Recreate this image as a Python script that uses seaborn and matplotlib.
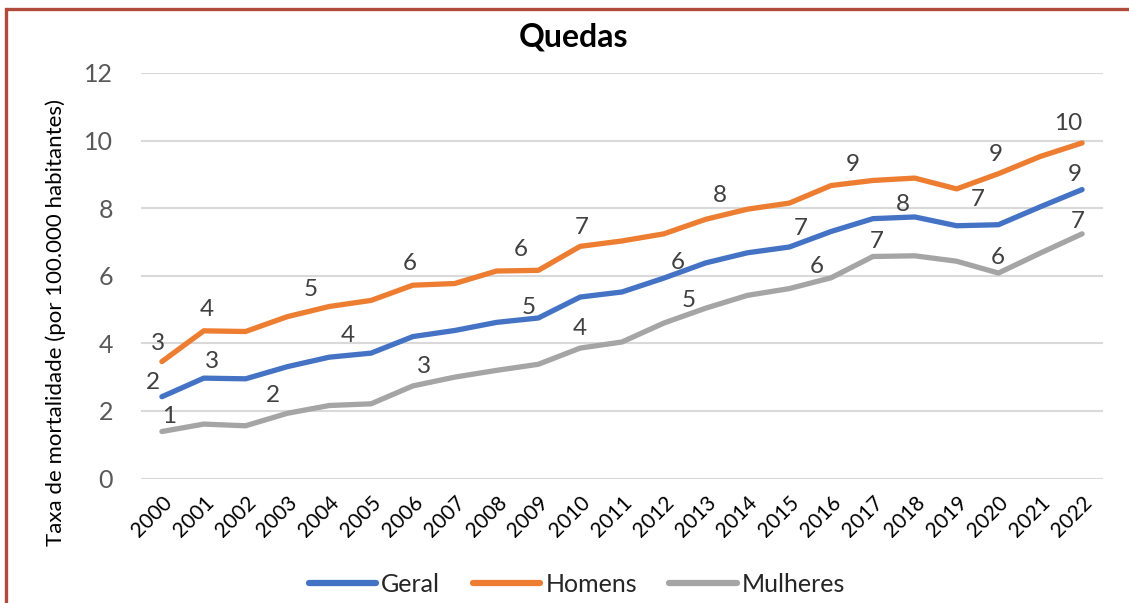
import numpy as np
import pandas as pd
import matplotlib.pyplot as plt
import seaborn as sns
from matplotlib.patches import Rectangle

sns.set_theme(style="white")
plt.rcParams["font.family"] = ["Lato", "DejaVu Sans"]

# Data
anos = list(range(2000, 2023))
geral = [2.42, 2.97, 2.95, 3.31, 3.59, 3.71, 4.20, 4.38, 4.62, 4.75, 5.37, 5.52,
         5.93, 6.38, 6.68, 6.85, 7.31, 7.69, 7.74, 7.48, 7.51, 8.04, 8.55]
homens = [3.46, 4.37, 4.35, 4.79, 5.09, 5.27, 5.72, 5.77, 6.14, 6.16, 6.87, 7.03,
          7.24, 7.67, 7.97, 8.15, 8.67, 8.82, 8.89, 8.57, 9.02, 9.53, 9.93]
mulheres = [1.39, 1.61, 1.56, 1.93, 2.16, 2.21, 2.74, 3.00, 3.20, 3.38, 3.86, 4.04,
            4.60, 5.04, 5.42, 5.62, 5.94, 6.57, 6.59, 6.43, 6.08, 6.67, 7.24]

series = ["Geral", "Homens", "Mulheres"]
cores = {"Geral": "#4472C4", "Homens": "#ED7D31", "Mulheres": "#A5A5A5"}

# which points carry a data label (year, offset in pixels dx, dy)
rotulos = {
    "Homens": [(2000, -4, 18), (2001, 3, 21), (2004, -18, 17), (2006, -3, 22),
               (2009, -18, 21), (2010, 2, 19), (2013, 14, 24), (2016, 22, 21),
               (2020, -3, 19), (2022, -14, 19)],
    "Geral": [(2000, -9, 14), (2001, 8, 17), (2005, -23, 18), (2009, -10, 10),
              (2012, 14, 16), (2015, 11, 19), (2018, -12, 12), (2019, 21, 26),
              (2022, -7, 15)],
    "Mulheres": [(2000, 7, 15), (2003, -14, 18), (2006, 11, 19), (2010, 0, 20),
                 (2013, -17, 8), (2016, -14, 11), (2017, 4, 15), (2020, -1, 16),
                 (2022, -4, 12)],
}

df = pd.DataFrame({"Ano": anos, "Geral": geral, "Homens": homens, "Mulheres": mulheres})
long_df = df.melt(id_vars="Ano", var_name="Serie", value_name="Taxa")

fig = plt.figure(figsize=(11.29, 6.03), dpi=100)
ax = fig.add_axes([141 / 1129, 1 - 478.5 / 603, (1103 - 141) / 1129, (478.5 - 73) / 603])

sns.lineplot(data=long_df, x="Ano", y="Taxa", hue="Serie", hue_order=series,
             palette=cores, linewidth=3.8, ax=ax, legend=False,
             solid_capstyle="round", solid_joinstyle="round")

for s in series:
    valores = df.set_index("Ano")[s]
    for ano, dx, dy in rotulos[s]:
        v = valores[ano]
        ax.annotate(f"{int(np.floor(v + 0.5))}", (ano, v), xytext=(dx, dy),
                    textcoords="offset pixels", ha="center", va="center",
                    fontsize=17.5, color="#404040")

ax.set_xlim(1999.5, 2022.5)
ax.set_ylim(0, 12)
ax.set_yticks(range(0, 13, 2))
ax.set_xticks(anos)
ax.set_xticklabels([str(a) for a in anos], rotation=45, ha="right",
                   rotation_mode="anchor", fontsize=15, color="black")
ax.tick_params(axis="y", labelsize=18, labelcolor="#595959", length=0, pad=20)
ax.tick_params(axis="x", length=0, pad=10)
ax.yaxis.grid(True, color="#D9D9D9", linewidth=1.5)
ax.set_axisbelow(True)
for sp in ax.spines.values():
    sp.set_visible(False)

ax.set_xlabel("")
ax.set_ylabel("Taxa de mortalidade (por 100.000 habitantes)", fontsize=16, color="black")
ax.yaxis.set_label_coords(-0.078, 0.385)
fig.text(573 / 1129, 1 - 37 / 603, "Quedas", ha="center", va="center",
         fontsize=23, fontweight="bold", color="black")

handles = [plt.Line2D([], [], color=cores[s], linewidth=4.5, solid_capstyle="round")
           for s in series]
fig.legend(handles, series, loc="center", bbox_to_anchor=(577 / 1129, 1 - 584 / 603),
           ncol=3, frameon=False, fontsize=18, handlelength=2.7, columnspacing=1.3,
           handletextpad=0.2, labelcolor="#262626")

# red frame around the chart
fig.patches.append(Rectangle((6 / 1129, -0.1), 1.2, 1 - 9 / 603 + 0.1,
                             transform=fig.transFigure, fill=False,
                             edgecolor="#B04A3C", linewidth=2.4))

fig.savefig("out.png", dpi=100)
